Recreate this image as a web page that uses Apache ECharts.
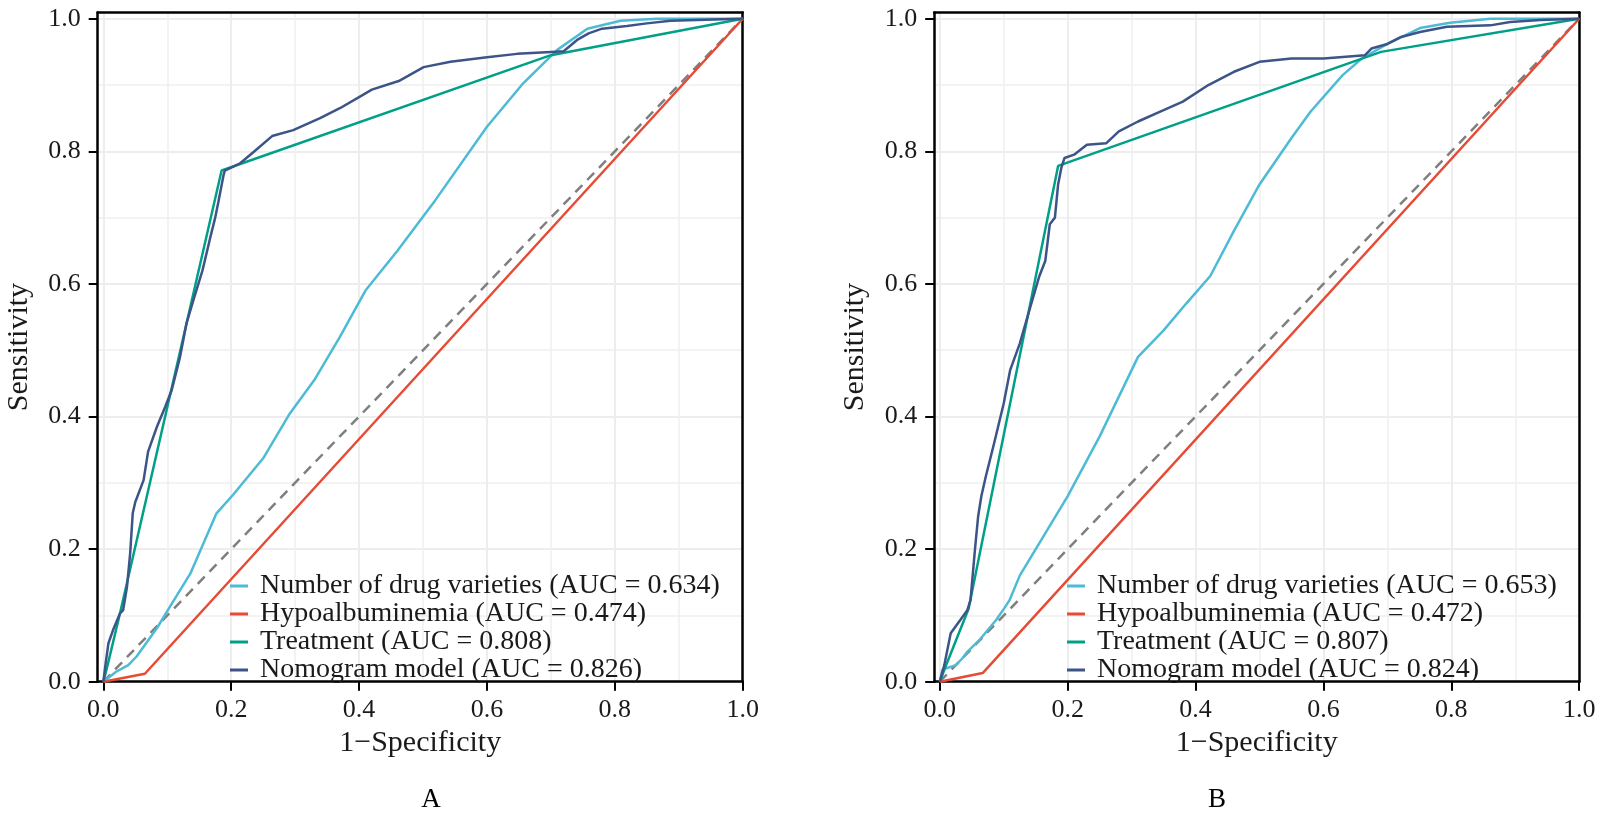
<!DOCTYPE html>
<html><head><meta charset="utf-8">
<script src="https://cdn.jsdelivr.net/npm/echarts@6/dist/echarts.min.js"></script>
<style>html,body{margin:0;padding:0;background:#fff}#c{width:1605px;height:820px}</style>
</head><body><div id="c"></div><script>
// ---- data ----
const tickValues = [0, 0.2, 0.4, 0.6, 0.8, 1.0];
const gridValues = [0, 0.1, 0.2, 0.3, 0.4, 0.5, 0.6, 0.7, 0.8, 0.9, 1.0];
const panelLetters = ['A', 'B'];
const xTitle = '1\u2212Specificity';
const yTitle = 'Sensitivity';
const namesA = ['Number of drug varieties (AUC = 0.634)', 'Hypoalbuminemia (AUC = 0.474)', 'Treatment (AUC = 0.808)', 'Nomogram model (AUC = 0.826)'];
const namesB = ['Number of drug varieties (AUC = 0.653)', 'Hypoalbuminemia (AUC = 0.472)', 'Treatment (AUC = 0.807)', 'Nomogram model (AUC = 0.824)'];
const diagonal = [[0, 0], [1, 1]];

const drugA = [[0,0],[0.02,0.015],[0.039,0.025],[0.052,0.038],[0.084,0.081],[0.104,0.113],[0.136,0.163],[0.177,0.254],[0.203,0.282],[0.25,0.337],[0.292,0.405],[0.33,0.455],[0.37,0.52],[0.41,0.59],[0.46,0.65],[0.519,0.726],[0.6,0.837],[0.657,0.903],[0.71,0.953],[0.757,0.985],[0.809,0.997],[0.866,1],[1,1]];
const hypoA = [[0,0],[0.065,0.012],[1,1]];
const treatA = [[0,0],[0.005,0.018],[0.026,0.103],[0.185,0.771],[0.70,0.945],[1,1]];
const nomoA = [[0,0],[0.003,0.023],[0.008,0.058],[0.016,0.08],[0.026,0.103],[0.031,0.108],[0.037,0.143],[0.042,0.194],[0.044,0.224],[0.046,0.254],[0.05,0.271],[0.063,0.304],[0.07,0.347],[0.084,0.385],[0.097,0.415],[0.107,0.44],[0.12,0.49],[0.13,0.54],[0.141,0.576],[0.155,0.62],[0.167,0.669],[0.175,0.70],[0.18,0.724],[0.188,0.764],[0.19,0.771],[0.214,0.782],[0.235,0.799],[0.264,0.823],[0.297,0.832],[0.339,0.85],[0.37,0.865],[0.402,0.883],[0.42,0.893],[0.462,0.906],[0.501,0.927],[0.543,0.935],[0.6,0.942],[0.647,0.947],[0.70,0.95],[0.72,0.951],[0.741,0.968],[0.759,0.978],[0.78,0.985],[0.819,0.989],[0.85,0.993],[0.887,0.997],[0.955,0.999],[1,1]];

const drugB = [[0,0],[0.004,0.018],[0.009,0.02],[0.025,0.025],[0.035,0.035],[0.043,0.045],[0.062,0.063],[0.088,0.093],[0.101,0.111],[0.109,0.123],[0.125,0.16],[0.15,0.2],[0.2,0.28],[0.25,0.37],[0.31,0.49],[0.35,0.53],[0.385,0.57],[0.423,0.612],[0.46,0.68],[0.5,0.75],[0.55,0.82],[0.58,0.86],[0.63,0.915],[0.66,0.94],[0.7,0.962],[0.751,0.986],[0.798,0.994],[0.861,1],[1,1]];
const hypoB = [[0,0],[0.067,0.013],[1,1]];
const treatB = [[0,0],[0.009,0.023],[0.045,0.11],[0.185,0.778],[0.69,0.95],[1,1]];
const nomoB = [[0,0],[0.007,0.025],[0.017,0.073],[0.032,0.093],[0.043,0.108],[0.048,0.123],[0.055,0.2],[0.06,0.25],[0.065,0.28],[0.072,0.31],[0.085,0.36],[0.1,0.42],[0.11,0.47],[0.125,0.51],[0.14,0.56],[0.155,0.61],[0.165,0.635],[0.172,0.69],[0.18,0.70],[0.185,0.75],[0.19,0.775],[0.195,0.79],[0.21,0.795],[0.23,0.81],[0.26,0.812],[0.28,0.83],[0.31,0.845],[0.35,0.862],[0.38,0.875],[0.42,0.9],[0.46,0.92],[0.5,0.935],[0.55,0.94],[0.6,0.94],[0.665,0.945],[0.675,0.955],[0.7,0.962],[0.72,0.972],[0.751,0.98],[0.793,0.988],[0.861,0.99],[0.892,0.995],[0.939,0.998],[1,1]];

// ---- styling / layout ----
const colors = ['#4DBBD5', '#E64B35', '#00A087', '#3C5488'];
const FONT = 'Liberation Serif, Times New Roman, serif';
const panels = [
  { names: namesA, data: [drugA, hypoA, treatA, nomoA], left: 97.7, legendLeft: 230, letterX: 431 },
  { names: namesB, data: [drugB, hypoB, treatB, nomoB], left: 934.2, legendLeft: 1067, letterX: 1217 }
];
const XMIN = -0.0088, XMAX = 1, YMIN = 0, YMAX = 1.0094;
const axisLineStyle = { color: '#000', width: 2.5 };

const grid = [], xAxis = [], yAxis = [], series = [], legend = [], title = [];
panels.forEach((p, i) => {
  grid.push({ left: p.left, top: 12.5, width: 645, height: 669.2, containLabel: false });
  xAxis.push({
    type: 'value', gridIndex: i, position: 'bottom', min: XMIN, max: XMAX,
    axisLine: { show: true, onZero: false, lineStyle: axisLineStyle },
    axisTick: { show: true, customValues: tickValues, length: 9, lineStyle: { color: '#000', width: 2 } },
    axisLabel: { customValues: tickValues, formatter: v => v.toFixed(1), fontSize: 26, fontFamily: FONT, color: '#1a1a1a', margin: 15 },
    splitLine: { show: true, lineStyle: { color: '#e6e6e6', width: 2 } },
    name: xTitle, nameLocation: 'middle', nameGap: 46,
    nameTextStyle: { fontSize: 30, fontFamily: FONT, color: '#1a1a1a' }
  });
  xAxis.push({
    type: 'value', gridIndex: i, position: 'top', min: XMIN, max: XMAX,
    axisLine: { show: true, onZero: false, lineStyle: axisLineStyle },
    axisTick: { show: false, customValues: gridValues },
    axisLabel: { show: false },
    splitLine: { show: true, lineStyle: { color: '#efefef', width: 1.5 } }
  });
  yAxis.push({
    type: 'value', gridIndex: i, position: 'left', min: YMIN, max: YMAX,
    axisLine: { show: true, onZero: false, lineStyle: axisLineStyle },
    axisTick: { show: true, customValues: tickValues, length: 9, lineStyle: { color: '#000', width: 2 } },
    axisLabel: { customValues: tickValues, formatter: v => v.toFixed(1), fontSize: 26, fontFamily: FONT, color: '#1a1a1a', margin: 17 },
    splitLine: { show: true, lineStyle: { color: '#e6e6e6', width: 2 } },
    name: yTitle, nameLocation: 'middle', nameGap: 64,
    nameTextStyle: { fontSize: 30, fontFamily: FONT, color: '#1a1a1a' }
  });
  yAxis.push({
    type: 'value', gridIndex: i, position: 'right', min: YMIN, max: YMAX,
    axisLine: { show: true, onZero: false, lineStyle: axisLineStyle },
    axisTick: { show: false, customValues: gridValues },
    axisLabel: { show: false },
    splitLine: { show: true, lineStyle: { color: '#efefef', width: 1.5 } }
  });
  series.push({
    type: 'line', xAxisIndex: 2 * i, yAxisIndex: 2 * i, data: diagonal, showSymbol: false, silent: true,
    lineStyle: { color: '#7f7f7f', width: 2.5, type: [10, 7] }, z: 2
  });
  p.data.forEach((d, k) => {
    series.push({
      type: 'line', name: p.names[k], xAxisIndex: 2 * i, yAxisIndex: 2 * i, data: d,
      showSymbol: false, symbol: 'none', color: colors[k],
      lineStyle: { color: colors[k], width: 2.5 }, itemStyle: { color: colors[k] }, z: 3 + k
    });
  });
  legend.push({
    data: p.names, left: p.legendLeft, top: 572, orient: 'vertical', itemGap: 0, padding: 0,
    icon: 'rect', itemWidth: 18, itemHeight: 3, selectedMode: false,
    textStyle: { fontSize: 28, fontFamily: FONT, color: '#1a1a1a', lineHeight: 25, padding: [0, 0, 0, 7] }
  });
  title.push({
    text: panelLetters[i], left: p.letterX, top: 786, textAlign: 'center', padding: 0,
    textStyle: { fontSize: 27, fontWeight: 'normal', fontFamily: FONT, color: '#000' }
  });
});

const chart = echarts.init(document.getElementById('c'), null, { renderer: 'canvas' });
chart.setOption({ animation: false, backgroundColor: '#fff', title, grid, xAxis, yAxis, legend, series });
</script></body></html>
